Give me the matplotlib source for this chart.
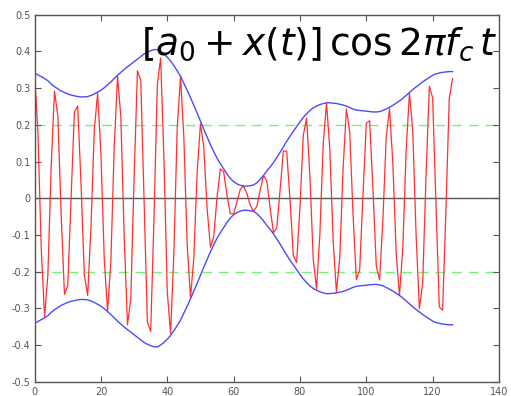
import matplotlib
matplotlib.use("Agg")
import matplotlib.pyplot as plt

# sample index t = 0..126
t = list(range(127))

# envelope a0 + x(t)
envelope = [
    .341, .336, .331, .326, .320, .311, .304, .298, .292, .288,
    .284, .281, .279, .277, .276, .276, .277, .280, .284, .289,
    .294, .301, .309, .317, .326, .335, .343, .351, .358, .365,
    .372, .379, .386, .393, .398, .402, .405, .405, .400, .393,
    .384, .374, .361, .347, .332, .313, .294, .274, .253, .232,
    .210, .188, .167, .146, .127, .109, .094, .080, .066, .054,
    .045, .039, .035, .033, .033, .034, .036, .042, .051, .062,
    .074, .085, .097, .111, .125, .140, .155, .169, .182, .195,
    .208, .220, .230, .239, .246, .251, .255, .258, .260, .260,
    .259, .258, .256, .254, .251, .247, .243, .240, .239, .238,
    .237, .236, .235, .235, .236, .239, .243, .248, .253, .259,
    .265, .272, .280, .288, .296, .303, .310, .317, .323, .329,
    .335, .339, .341, .343, .344, .345, .345,
]

# modulated signal
signal = [
    .341, .181, -.138, -.323, -.209, .088, .292, .225, -.043, -.262,
    -.238, .001, .235, .251, .038, -.210, -.265, -.077, .187, .286,
    .120, -.165, -.309, -.169, .138, .332, .222, -.102, -.345, -.273,
    .057, .347, .322, -.005, -.338, -.363, -.052, .310, .382, .105,
    -.256, -.369, -.144, .193, .332, .164, -.127, -.272, -.162, .070,
    .203, .140, -.027, -.134, -.105, .002, .080, .072, .008, -.042,
    -.043, -.010, .024, .033, .013, -.019, -.036, -.022, .022, .062,
    .047, -.026, -.094, -.082, .022, .129, .128, -.005, -.156, -.175,
    -.023, .171, .218, .060, -.167, -.247, -.098, .147, .260, .133,
    -.116, -.256, -.161, .081, .243, .180, -.044, -.222, -.196, .010,
    .204, .211, .024, -.184, -.223, -.058, .167, .244, .095, -.149,
    -.265, -.137, .128, .287, .183, -.099, -.301, -.230, .061, .305,
    .273, -.016, -.296, -.305, -.032, .272, .326,
]

xticks = [0, 20, 40, 60, 80, 100, 120, 140]
yticks = [-0.5, -0.4, -0.3, -0.2, -0.1, 0, 0.1, 0.2, 0.3, 0.4, 0.5]
ytick_labels = ['-0.5', '-0.4', '-0.3', '-0.2', '-0.1', '0', '0.1', '0.2', '0.3', '0.4', '0.5']

fig = plt.figure(figsize=(5.11, 3.96), dpi=100)
ax = fig.add_axes([34.6 / 511, 1 - 381.7 / 396, (499 - 34.6) / 511, (381.7 - 14.7) / 396])

ax.axhline(0, color='#555555', lw=1.0, zorder=1)
ax.axhline(0.2, color='#77ee77', lw=1.0, dashes=(7, 5), zorder=1)
ax.axhline(-0.2, color='#77ee77', lw=1.0, dashes=(7, 5), zorder=1)

ax.plot(t, signal, color='#ff3030', lw=0.9, zorder=2)
ax.plot(t, envelope, color='#4a4aff', lw=1.0, zorder=3)
ax.plot(t, [-v for v in envelope], color='#4a4aff', lw=1.0, zorder=3)

ax.set_xlim(0, 140)
ax.set_ylim(-0.5, 0.5)
ax.set_xticks(xticks)
ax.set_yticks(yticks)
ax.set_yticklabels(ytick_labels)
ax.tick_params(direction='in', top=True, right=True, length=4, width=0.8,
               colors='#555555', labelsize=7, pad=3)
ax.tick_params(axis='x', pad=4)
for s in ax.spines.values():
    s.set_color('#555555')
    s.set_linewidth(1.0)

ax.text(0.996, 0.972, r'$[a_0 + x(t)]\,\cos 2\pi f_c\, t$', transform=ax.transAxes,
        ha='right', va='top', fontsize=27, color='black', zorder=5)

fig.savefig('out.png', dpi=100)
